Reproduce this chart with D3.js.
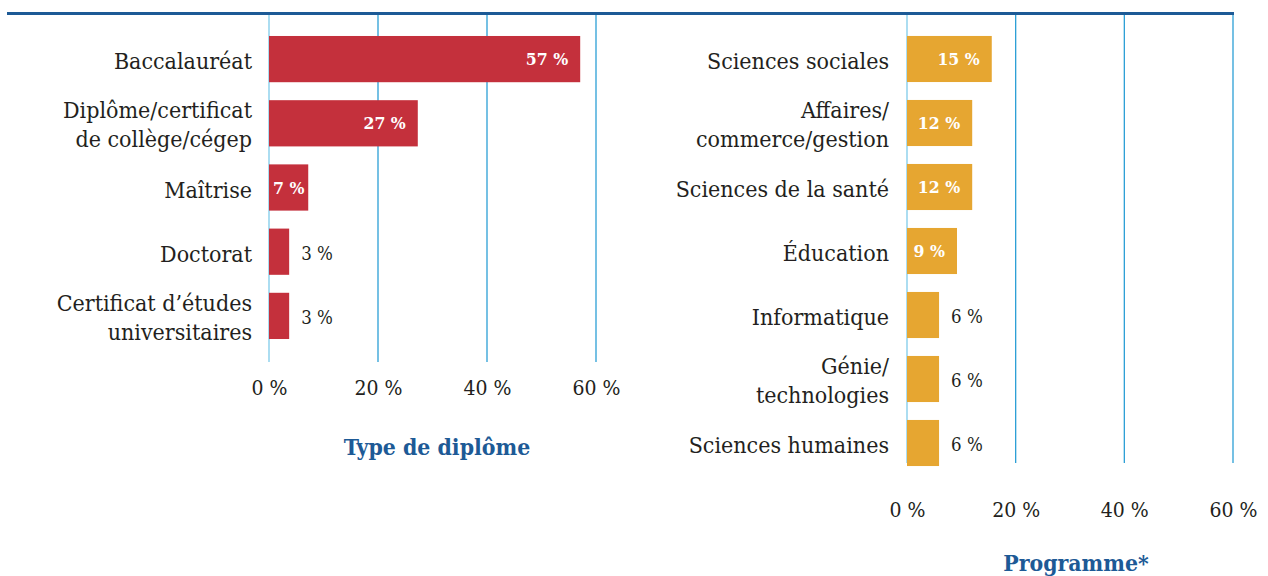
<!DOCTYPE html>
<html><head><meta charset="utf-8">
<script src="https://cdn.jsdelivr.net/npm/d3@7"></script>
<style>
body{margin:0;background:#fff;}
text{font-family:"DejaVu Serif Condensed","DejaVu Serif","Liberation Serif",serif;font-stretch:condensed;}
</style></head>
<body><svg id="c" width="1268" height="576"></svg>
<script>
const diplomaCategories = [["Baccalauréat"],["Diplôme/certificat","de collège/cégep"],["Maîtrise"],["Doctorat"],["Certificat d’études","universitaires"]];
const diplomaValues = [57.1, 27.3, 7.2, 3.7, 3.7];
const diplomaLabels = ["57 %","27 %","7 %","3 %","3 %"];
const diplomaInside = [true, true, true, false, false];

const programCategories = [["Sciences sociales"],["Affaires/","commerce/gestion"],["Sciences de la santé"],["Éducation"],["Informatique"],["Génie/","technologies"],["Sciences humaines"]];
const programValues = [15.6, 12, 12, 9.2, 5.9, 5.9, 5.9];
const programLabels = ["15 %","12 %","12 %","9 %","6 %","6 %","6 %"];
const programInside = [true, true, true, true, false, false, false];

const tickValues = [0, 20, 40, 60];
const tickFormat = d => d + " %";
const titles = ["Type de diplôme", "Programme*"];

const svg = d3.select("#c");
const textColor = "#231f20";
const blue = "#1d5a96";

svg.append("line").attr("x1",7).attr("x2",1234).attr("y1",13.5).attr("y2",13.5)
  .attr("stroke",blue).attr("stroke-width",3);

function panel(cfg){
  const x = d3.scaleLinear().domain([0,60]).range([cfg.x0, cfg.x1]);
  const idx = cfg.cats.map((d,i)=>i);
  const y = d3.scaleBand().domain(idx).range([cfg.y0, cfg.y1]).paddingInner(0.28).paddingOuter(0.14);
  const g = svg.append("g");
  g.selectAll("line.grid").data(tickValues).join("line")
    .attr("x1",d=>x(d)).attr("x2",d=>x(d)).attr("y1",15).attr("y2",cfg.gridBottom)
    .attr("stroke",d=>d===0?"#7fcbea":"#2b9fd6").attr("stroke-width",1.3);
  const ax = d3.axisBottom(x).tickValues(tickValues).tickFormat(tickFormat).tickSize(0).tickPadding(0);
  const axg = g.append("g").attr("transform",`translate(0,${cfg.tickY})`).call(ax);
  axg.select(".domain").remove();
  axg.attr("font-family",null);
  axg.selectAll("text").attr("font-size",21).attr("fill",textColor).attr("dy",0);
  g.selectAll("rect.bar").data(cfg.vals).join("rect")
    .attr("x",x(0)).attr("y",(d,i)=>y(i)).attr("width",d=>x(d)-x(0)).attr("height",y.bandwidth())
    .attr("fill",cfg.color);
  cfg.cats.forEach((lines,i)=>{
    const cy = y(i)+y.bandwidth()/2;
    const t = g.append("text").attr("x",cfg.labelX).attr("text-anchor","end")
      .attr("font-size",23).attr("fill",textColor);
    const n = lines.length;
    lines.forEach((l,j)=>{
      const yy = n===1 ? cy+10 : cy - 5 + j*29;
      t.append("tspan").attr("x",cfg.labelX).attr("y",yy).text(l);
    });
  });
  cfg.vals.forEach((v,i)=>{
    const cy = y(i)+y.bandwidth()/2;
    if(cfg.inside[i]){
      const t = g.append("text").attr("font-size",17.5).attr("font-weight","bold").attr("fill","#fff")
        .attr("text-anchor","end").attr("y",cy+6).text(cfg.labels[i]);
      const w = t.node().getComputedTextLength();
      t.attr("x", Math.max(x(0)+4+w, x(v)-12));
    } else {
      g.append("text").attr("font-size",18.5).attr("fill",textColor)
        .attr("x",x(v)+12).attr("y",cy+8).text(cfg.labels[i]);
    }
  });
  g.append("text").attr("x",cfg.titleX).attr("y",cfg.titleY).attr("text-anchor","middle")
    .attr("font-size",22.8).attr("font-weight","bold").attr("fill",blue).text(cfg.title);
}

panel({x0:269,x1:596,y0:27,y1:348,cats:diplomaCategories,vals:diplomaValues,labels:diplomaLabels,
  inside:diplomaInside,color:"#c4303c",gridBottom:362,tickY:395,labelX:252,title:titles[0],titleX:437,titleY:455});
panel({x0:907,x1:1233,y0:27,y1:475,cats:programCategories,vals:programValues,labels:programLabels,
  inside:programInside,color:"#e6a631",gridBottom:463,tickY:517,labelX:889,title:titles[1],titleX:1076,titleY:571});
</script></body></html>
